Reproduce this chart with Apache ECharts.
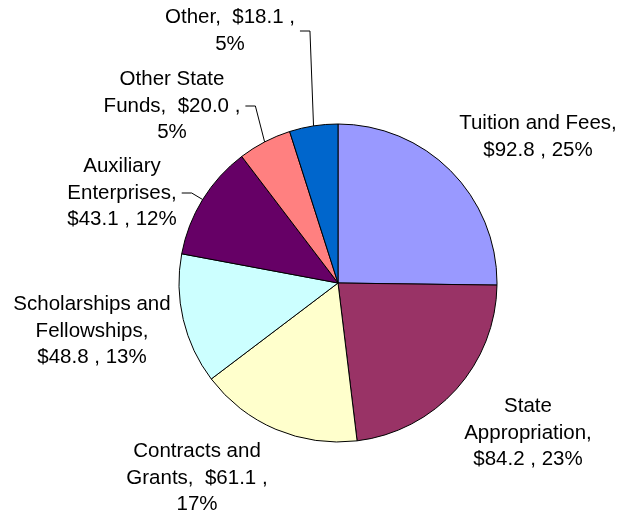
<!DOCTYPE html>
<html><head><meta charset="utf-8">
<script src="https://cdn.jsdelivr.net/npm/echarts@6/dist/echarts.min.js"></script>
<style>html,body{margin:0;padding:0;background:#fff}#c{width:621px;height:514px}</style>
</head><body><div id="c"></div>
<script>
const categories = ["Tuition and Fees", "State Appropriation", "Contracts and Grants", "Scholarships and Fellowships", "Auxiliary Enterprises", "Other State Funds", "Other"];
const values = [92.8, 84.2, 61.1, 48.8, 43.1, 20.0, 18.1];
const colors = ["#9999FF", "#993366", "#FFFFCC", "#CCFFFF", "#660066", "#FF8080", "#0066CC"];
// label line templates ({n}=name, {v}=value, {p}=percent)
const labelTemplates = [
  "{n},\n${v} , {p}%",
  "State\nAppropriation,\n${v} , {p}%",
  "Contracts and\nGrants,  ${v} ,\n{p}%",
  "Scholarships and\nFellowships,\n${v} , {p}%",
  "Auxiliary\nEnterprises,\n${v} , {p}%",
  "Other State\nFunds,  ${v} ,\n{p}%",
  "{n},  ${v} ,\n{p}%"
];
const labelPos = [[538,137],[528,433],[197,478],[92,331],[122,193],[172,106],[230,31]];
const withLine = [false,false,false,false,true,true,true];

const total = values.reduce((a,b)=>a+b,0);
const chart = echarts.init(document.getElementById('c'), null, {renderer:'canvas'});
chart.setOption({
  animation:false,
  series:[{
    type:'pie',
    center:[338,283],
    radius:159,
    startAngle:90,
    clockwise:true,
    itemStyle:{borderColor:'#000',borderWidth:1},
    label:{
      show:true,
      fontFamily:'Liberation Sans, Arial, sans-serif',
      fontSize:20.5,
      lineHeight:26.5,
      color:'#000',
      align:'center',
      overflow:'none',
      formatter:(p)=>labelTemplates[p.dataIndex]
        .replace('{n}',p.name)
        .replace('{v}',p.value.toFixed(1))
        .replace('{p}',Math.round(p.value/total*100))
    },
    labelLine:{show:true,length:10,length2:10,lineStyle:{color:'#000',width:1}},
    labelLayout:(params)=>{
      const i = params.dataIndex;
      const pos = labelPos[i];
      const out = {x:pos[0],y:pos[1],align:'center',verticalAlign:'middle'};
      if (withLine[i] && params.labelLinePoints) {
        const edge = params.labelLinePoints[0];
        const right = pos[0] + params.labelRect.width/2 + 5;
        out.labelLinePoints = [edge, [right + 10, pos[1]], [right, pos[1]]];
      }
      return out;
    },
    data: categories.map((n,i)=>({name:n,value:values[i],itemStyle:{color:colors[i]},labelLine:{show:withLine[i]}}))
  }]
});
</script></body></html>
